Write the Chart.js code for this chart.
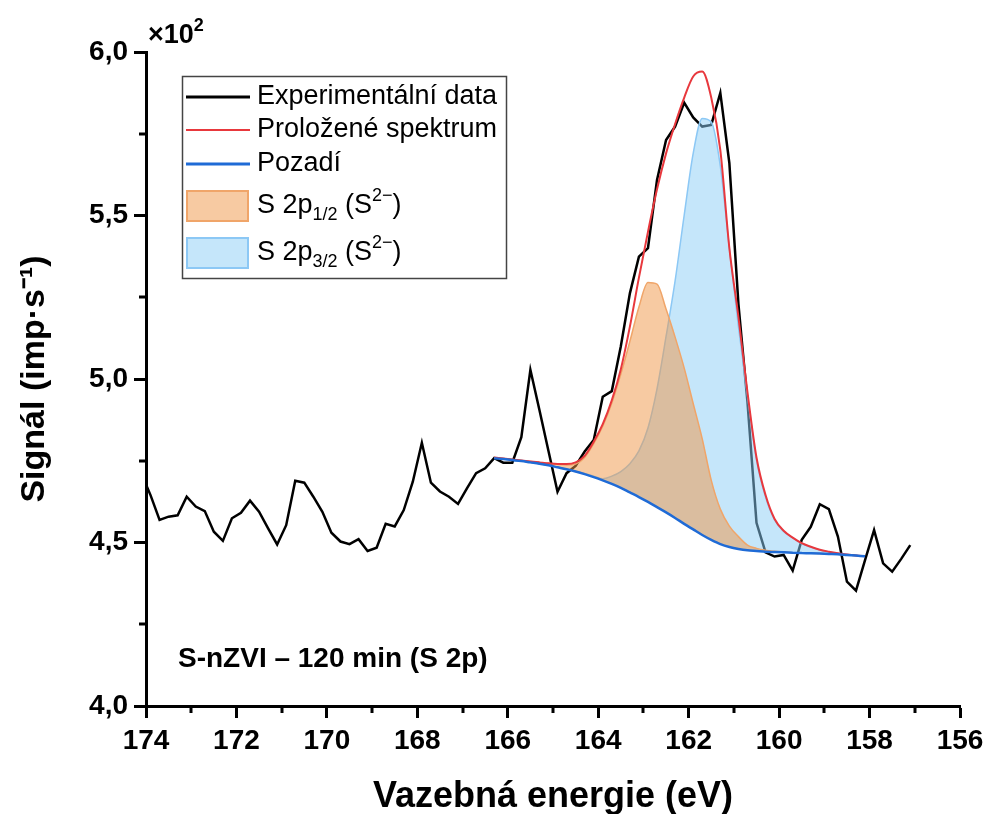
<!DOCTYPE html>
<html>
<head>
<meta charset="utf-8">
<title>S 2p XPS</title>
<script src="https://cdn.jsdelivr.net/npm/chart.js@4.4.0/dist/chart.umd.min.js"></script>
<style>
  html, body { margin: 0; padding: 0; background: #fff; }
  #wrap { width: 984px; height: 814px; }
</style>
</head>
<body>
<div id="wrap"><canvas id="xps-chart" width="984" height="814"></canvas></div>
<script>
// signal is in units of 10^2 imp/s
var expEnergy = [
  174.1, 173.9, 173.7, 173.5, 173.3, 173.1, 172.9, 172.7, 172.5, 172.3,
  172.1, 171.9, 171.7, 171.5, 171.3, 171.1, 170.9, 170.7, 170.5, 170.3,
  170.1, 169.9, 169.7, 169.5, 169.3, 169.1, 168.9, 168.7, 168.5, 168.3,
  168.1, 167.9, 167.7, 167.5, 167.3, 167.1, 166.9, 166.7, 166.5, 166.3,
  166.1, 165.9, 165.7, 165.5, 165.3, 165.1, 164.9, 164.7, 164.5, 164.3,
  164.1, 163.9, 163.7, 163.5, 163.3, 163.1, 162.9, 162.7, 162.5, 162.3,
  162.1, 161.9, 161.7, 161.5, 161.3, 161.1, 160.9, 160.7, 160.5, 160.3,
  160.1, 159.9, 159.7, 159.5, 159.3, 159.1, 158.9, 158.7, 158.5, 158.3,
  158.1, 157.9, 157.7, 157.5, 157.3, 157.1
];
var expSignal = [
  4.710, 4.645, 4.569, 4.579, 4.583, 4.640, 4.610, 4.596, 4.533, 4.505,
  4.574, 4.591, 4.628, 4.594, 4.543, 4.494, 4.553, 4.689, 4.683, 4.640,
  4.594, 4.530, 4.503, 4.495, 4.510, 4.474, 4.484, 4.557, 4.549, 4.599,
  4.686, 4.805, 4.683, 4.656, 4.640, 4.618, 4.666, 4.712, 4.727, 4.758,
  4.744, 4.744, 4.822, 5.028, 4.905, 4.780, 4.655, 4.712, 4.734, 4.778,
  4.813, 4.946, 4.963, 5.100, 5.262, 5.374, 5.400, 5.609, 5.731, 5.772,
  5.845, 5.800, 5.772, 5.777, 5.875, 5.660, 5.230, 4.930, 4.560, 4.470,
  4.457, 4.462, 4.414, 4.508, 4.548, 4.617, 4.602, 4.518, 4.380, 4.353,
  4.446, 4.538, 4.436, 4.411, 4.450, 4.492
];

var fitEnergy = [
  166.3, 166.1, 165.9, 165.7, 165.5, 165.3, 165.1, 164.9, 164.7, 164.5,
  164.3, 164.1, 163.9, 163.7, 163.5, 163.3, 163.1, 162.9, 162.7, 162.5,
  162.3, 162.1, 161.9, 161.7, 161.5, 161.3, 161.1, 160.9, 160.7, 160.5,
  160.3, 160.1, 159.9, 159.7, 159.5, 159.3, 159.1, 158.9, 158.7, 158.5,
  158.3, 158.1
];
var background = [
  4.758, 4.755, 4.752, 4.749, 4.745, 4.741, 4.736, 4.730, 4.724, 4.717,
  4.709, 4.700, 4.690, 4.679, 4.667, 4.653, 4.639, 4.624, 4.608, 4.592,
  4.575, 4.557, 4.540, 4.523, 4.508, 4.495, 4.486, 4.480, 4.476, 4.474,
  4.472, 4.471, 4.470, 4.469, 4.468, 4.467, 4.466, 4.465, 4.464, 4.462,
  4.460, 4.458
];
var peak12 = [
  4.760, 4.757, 4.754, 4.751, 4.748, 4.745, 4.742, 4.739, 4.737, 4.740,
  4.760, 4.802, 4.856, 4.926, 5.015, 5.115, 5.220, 5.295, 5.290, 5.214,
  5.128, 5.034, 4.925, 4.817, 4.690, 4.602, 4.550, 4.518, 4.492, 4.482,
  4.476, 4.473, 4.471, 4.469, 4.468, 4.467, 4.466, 4.465, 4.464, 4.462,
  4.460, 4.458
];
var peak32 = [
  4.758, 4.755, 4.752, 4.749, 4.745, 4.741, 4.736, 4.730, 4.724, 4.717,
  4.711, 4.703, 4.695, 4.703, 4.717, 4.741, 4.780, 4.850, 4.970, 5.130,
  5.300, 5.500, 5.690, 5.797, 5.786, 5.651, 5.400, 5.160, 4.950, 4.752,
  4.639, 4.569, 4.534, 4.514, 4.497, 4.486, 4.477, 4.471, 4.467, 4.463,
  4.460, 4.458
];
var envelope = [
  4.760, 4.757, 4.754, 4.751, 4.748, 4.745, 4.742, 4.740, 4.740, 4.745,
  4.765, 4.808, 4.862, 4.935, 5.030, 5.160, 5.310, 5.450, 5.580, 5.690,
  5.780, 5.860, 5.925, 5.940, 5.860, 5.700, 5.400, 5.190, 4.960, 4.760,
  4.645, 4.572, 4.536, 4.515, 4.498, 4.487, 4.478, 4.472, 4.467, 4.463,
  4.460, 4.458
];

var xMinorTicks = [157, 159, 161, 163, 165, 167, 169, 171, 173];
var yMinorTicks = [4.25, 4.75, 5.25, 5.75];

var FONT = "'Liberation Sans', Arial, Helvetica, sans-serif";
var ORANGE_FILL = 'rgba(240, 150, 70, 0.5)';
var ORANGE_LINE = 'rgba(240, 165, 105, 1)';
var BLUE_FILL = 'rgba(139, 205, 245, 0.5)';
var BLUE_LINE = 'rgba(140, 200, 245, 1)';
var RED = '#e8383d';
var BG_BLUE = '#1f6bd6';

var LEGEND = [
  { kind: 'line', color: '#000', width: 3, y: 97, parts: [{ t: 'Experimentální data' }] },
  { kind: 'line', color: RED, width: 2, y: 130, parts: [{ t: 'Proložené spektrum' }] },
  { kind: 'line', color: BG_BLUE, width: 3, y: 164, parts: [{ t: 'Pozadí' }] },
  { kind: 'box', fill: ORANGE_FILL, stroke: ORANGE_LINE, y: 206,
    parts: [{ t: 'S 2p' }, { t: '1/2', sub: true }, { t: ' (S' }, { t: '2\u2212', sup: true }, { t: ')' }] },
  { kind: 'box', fill: BLUE_FILL, stroke: BLUE_LINE, y: 253,
    parts: [{ t: 'S 2p' }, { t: '3/2', sub: true }, { t: ' (S' }, { t: '2\u2212', sup: true }, { t: ')' }] }
];

function pts(xs, ys) {
  return xs.map(function (x, i) { return { x: x, y: ys[i] }; });
}

function drawRich(ctx, parts, x, y, size, bold) {
  parts.forEach(function (p) {
    var s = (p.sub || p.sup) ? Math.round(size * 0.66) : size;
    ctx.font = (bold ? 'bold ' : '') + s + 'px ' + FONT;
    var dy = p.sub ? size * 0.33 : (p.sup ? -size * 0.36 : 0);
    ctx.fillText(p.t, x, y + dy);
    x += ctx.measureText(p.t).width;
  });
}

var decorations = {
  id: 'decorations',
  afterDraw: function (chart) {
    var ctx = chart.ctx;
    var xs = chart.scales.x, ys = chart.scales.y;
    var area = chart.chartArea;
    ctx.save();

    // minor ticks
    ctx.strokeStyle = '#000';
    ctx.lineWidth = 3;
    ctx.beginPath();
    xMinorTicks.forEach(function (e) {
      var px = Math.round(xs.getPixelForValue(e));
      ctx.moveTo(px, area.bottom);
      ctx.lineTo(px, area.bottom + 7);
    });
    yMinorTicks.forEach(function (v) {
      var py = Math.round(ys.getPixelForValue(v));
      ctx.moveTo(area.left, py);
      ctx.lineTo(area.left - 7, py);
    });
    ctx.stroke();

    ctx.fillStyle = '#000';
    ctx.textBaseline = 'middle';
    ctx.textAlign = 'left';

    // axis multiplier
    drawRich(ctx, [{ t: '\u00d710' }, { t: '2', sup: true }], 148, 36, 27, true);

    // sample label
    ctx.font = 'bold 28px ' + FONT;
    ctx.fillText('S-nZVI \u2013 120 min (S 2p)', 178, 659);

    // legend
    ctx.fillStyle = '#fff';
    ctx.fillRect(182, 76, 325, 203);
    ctx.strokeStyle = '#444';
    ctx.lineWidth = 1.5;
    ctx.strokeRect(182.5, 76.5, 324, 202);
    LEGEND.forEach(function (item) {
      if (item.kind === 'line') {
        ctx.strokeStyle = item.color;
        ctx.lineWidth = item.width;
        ctx.beginPath();
        ctx.moveTo(186, item.y);
        ctx.lineTo(250, item.y);
        ctx.stroke();
      } else {
        ctx.fillStyle = item.fill;
        ctx.fillRect(187, item.y - 15, 61, 30);
        ctx.strokeStyle = item.stroke;
        ctx.lineWidth = 2;
        ctx.strokeRect(187, item.y - 15, 61, 30);
      }
      ctx.fillStyle = '#000';
      drawRich(ctx, item.parts, 257, item.y, 27, false);
    });
    ctx.restore();
  }
};

Chart.defaults.font.family = FONT;
Chart.defaults.color = '#000';

var ctx = document.getElementById('xps-chart').getContext('2d');
var xpsChart = new Chart(ctx, {
  type: 'line',
  data: {
    datasets: [
      {
        label: 'Experimentální data',
        data: pts(expEnergy, expSignal),
        borderColor: '#000',
        borderWidth: 2.5,
        pointRadius: 0,
        tension: 0,
        fill: false,
        order: 4,
      },
      {
        label: 'S 2p1/2 (S2-)',
        data: pts(fitEnergy, peak12),
        borderColor: ORANGE_LINE,
        backgroundColor: ORANGE_FILL,
        borderWidth: 1.5,
        pointRadius: 0,
        cubicInterpolationMode: 'monotone',
        fill: 4,
        order: 2,
      },
      {
        label: 'S 2p3/2 (S2-)',
        data: pts(fitEnergy, peak32),
        borderColor: BLUE_LINE,
        backgroundColor: BLUE_FILL,
        borderWidth: 1.5,
        pointRadius: 0,
        cubicInterpolationMode: 'monotone',
        fill: 4,
        order: 3,
      },
      {
        label: 'Proložené spektrum',
        data: pts(fitEnergy, envelope),
        borderColor: RED,
        borderWidth: 2,
        pointRadius: 0,
        cubicInterpolationMode: 'monotone',
        fill: false,
        order: 1,
      },
      {
        label: 'Pozadí',
        data: pts(fitEnergy, background),
        borderColor: BG_BLUE,
        borderWidth: 2.5,
        pointRadius: 0,
        cubicInterpolationMode: 'monotone',
        fill: false,
        order: 0,
      },
    ],
  },
  options: {
    responsive: false,
    animation: false,
    layout: { padding: { top: 52, right: 24, bottom: 0, left: 0 } },
    scales: {
      x: {
        type: 'linear',
        reverse: true,
        min: 156,
        max: 174,
        afterFit: function (scale) {
          scale.height = 108;
          scale.paddingLeft = 0;
          scale.paddingRight = 0;
        },
        ticks: {
          stepSize: 2,
          padding: 6,
          font: { size: 28, weight: 'bold' },
          callback: function (v) { return v; },
        },
        grid: { drawOnChartArea: false, drawTicks: true, tickLength: 12, tickWidth: 3, tickColor: '#000' },
        border: { display: true, color: '#000', width: 3 },
        title: {
          display: true,
          text: 'Vazebná energie (eV)',
          font: { size: 36, weight: 'bold' },
          padding: { top: 0, bottom: -5 },
        },
      },
      y: {
        min: 4.0,
        max: 6.0,
        afterFit: function (scale) {
          scale.width = 146;
          scale.paddingTop = 0;
          scale.paddingBottom = 0;
        },
        ticks: {
          stepSize: 0.5,
          padding: 6,
          font: { size: 28, weight: 'bold' },
          callback: function (v) { return v.toFixed(1).replace('.', ','); },
        },
        grid: { drawOnChartArea: false, drawTicks: true, tickLength: 12, tickWidth: 3, tickColor: '#000' },
        border: { display: true, color: '#000', width: 3 },
        title: {
          display: true,
          text: 'Signál (imp·s\u207b\u00b9)',
          font: { size: 34, weight: 'bold' },
          padding: { top: 14, bottom: 0 },
        },
      },
    },
    plugins: {
      legend: { display: false },
      tooltip: { enabled: false },
    },
  },
  plugins: [decorations],
});
</script>
</body>
</html>
